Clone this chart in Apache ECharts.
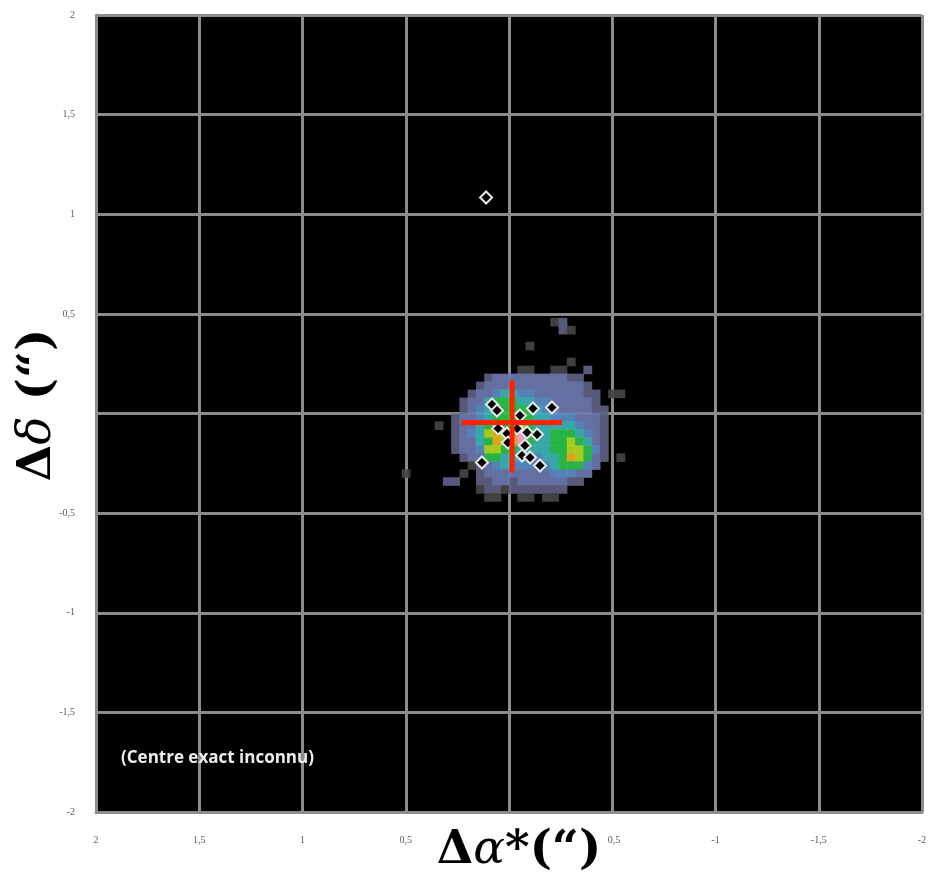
<!DOCTYPE html>
<html>
<head>
<meta charset="utf-8">
<script src="https://cdn.jsdelivr.net/npm/echarts@6/dist/echarts.min.js"></script>
<style>
html,body{margin:0;padding:0;background:#fff;}
#chart{width:930px;height:883px;}
</style>
</head>
<body>
<div id="chart"></div>
<script>
// ---- Axis ticks (Excel style, comma decimals) ----
const xTicks = [2, 1.5, 1, 0.5, 0, -0.5, -1, -1.5, -2];
const xTickLabels = ['2', '1,5', '1', '0,5', '0', '-0,5', '-1', '-1,5', '-2'];
const yTicks = [-2, -1.5, -1, -0.5, 0, 0.5, 1, 1.5, 2];
const yTickLabels = ['-2', '-1,5', '-1', '-0,5', '0', '0,5', '1', '1,5', '2'];

// ---- Density map (level 0 = empty) ----
// Row 0 is the top row; column 0 is the leftmost (largest Δα*).
const heatX0 = 0.50;   // Δα* of column 0 centre
const heatY0 = 0.46;   // Δδ of row 0 centre
const heatStep = 0.04; // cell size (″)
const heatRows = [
  "000000000000000000120000000",
  "000000000000000000021000000",
  "000000000000000000000000000",
  "000000000000000100000000000",
  "000000000000000000000000000",
  "000000000000000000001000000",
  "000000000000001100110020000",
  "000000000023333333332200000",
  "000000000233333333333320000",
  "000000002334554433333322011",
  "000000023356665544333332000",
  "000000023455666654433332200",
  "000000233456666655444333200",
  "000010233567667655555433200",
  "000000234578789655666543200",
  "000000233568789655667653200",
  "000000233477665555667764200",
  "000000023366555445568763201",
  "000000001234544434566643000",
  "100000010233333333444330000",
  "000002200223323333332200000",
  "000000000122122222220000000",
  "000000000011001101100000000"
];
const heatPalette = ['transparent', '#454548', '#5f5f82', '#6b78ae', '#5a8ec6', '#3cb4b6', '#2cc24a', '#b4da22', '#eeb21e', '#f2a9cf'];

// ---- Individual measurements (Δα*, Δδ) ----
const pointsX = [0.111, 0.082, 0.058, -0.116, -0.208, -0.053, 0.053, 0.010, -0.039, -0.087, -0.136, 0.005, -0.077, -0.063, -0.102, -0.150, 0.131];
const pointsY = [1.084, 0.045, 0.015, 0.025, 0.030, -0.010, -0.075, -0.100, -0.075, -0.095, -0.105, -0.146, -0.161, -0.211, -0.221, -0.261, -0.246];

// ---- Red cross (mean position) ----
const crossH = [[0.228, -0.045], [-0.257, -0.045]];
const crossV = [[-0.015, 0.166], [-0.015, -0.296]];

const noteText = '(Centre exact inconnu)';

// ---- Build series data ----
const heatData = [];
heatRows.forEach((row, r) => {
  for (let c = 0; c < row.length; c++) {
    const lv = +row[c];
    if (lv > 0) heatData.push([heatX0 - c * heatStep, heatY0 - r * heatStep, lv]);
  }
});
const pointData = pointsX.map((x, i) => [x, pointsY[i]]);

function fmt(ticks, labels) {
  return v => {
    const i = ticks.findIndex(t => Math.abs(t - v) < 1e-9);
    return i >= 0 ? labels[i] : '';
  };
}

const gridColor = '#8c8c8c';
const titleFont = 'bold 47px "DejaVu Serif"';
const titleItalic = 'italic 47px "DejaVu Serif"';
const chart = echarts.init(document.getElementById('chart'), null, {renderer: 'canvas'});
chart.setOption({
  animation: false,
  backgroundColor: '#fff',
  grid: {left: 96, right: 8, top: 15, bottom: 71, show: true, backgroundColor: '#000', borderWidth: 0},
  xAxis: {
    type: 'value', min: -2, max: 2, interval: 0.5, inverse: true,
    axisLine: {show: true, onZero: false, lineStyle: {color: gridColor, width: 3}},
    axisTick: {show: false},
    splitLine: {show: true, lineStyle: {color: gridColor, width: 3}},
    axisLabel: {margin: 23, color: '#5b5b6b', fontSize: 10, fontFamily: 'Liberation Serif', formatter: fmt(xTicks, xTickLabels)}
  },
  yAxis: {
    type: 'value', min: -2, max: 2, interval: 0.5,
    axisLine: {show: true, onZero: false, lineStyle: {color: gridColor, width: 3}},
    axisTick: {show: false},
    splitLine: {show: true, lineStyle: {color: gridColor, width: 3}},
    axisLabel: {margin: 21, color: '#5b5b6b', fontSize: 10, fontFamily: 'Liberation Serif', formatter: fmt(yTicks, yTickLabels)}
  },
  graphic: [
    {
      type: 'text', z: 100, x: 519, y: 851,
      style: {
        text: 'Δ{i|α}*(“)',
        font: titleFont,
        fill: '#000', align: 'center', verticalAlign: 'middle',
        backgroundColor: '#fff', padding: [6, 6, 6, 6],
        rich: {i: {font: titleItalic, fill: '#000'}}
      }
    },
    {
      type: 'text', z: 100, x: 43, y: 405, rotation: Math.PI / 2,
      style: {
        text: 'Δ{i|δ} (“)',
        font: titleFont,
        fill: '#000', align: 'center', verticalAlign: 'middle',
        backgroundColor: '#fff', padding: [4, 4, 14, 4],
        rich: {i: {font: titleItalic, fill: '#000'}}
      }
    },
    {
      type: 'text', z: 100, x: 121, y: 758,
      style: {
        text: noteText,
        font: 'bold 17px "Open Sans"',
        fill: '#ececec', align: 'left', verticalAlign: 'middle'
      }
    }
  ],
  series: [
    {
      type: 'custom', name: 'density', z: 2,
      data: heatData,
      encode: {x: 0, y: 1},
      renderItem: (params, api) => {
        const x = api.value(0), y = api.value(1), lv = api.value(2);
        const h = heatStep / 2;
        const p0 = api.coord([x + h, y + h]);
        const p1 = api.coord([x - h, y - h]);
        return {
          type: 'rect',
          shape: {x: Math.min(p0[0], p1[0]), y: Math.min(p0[1], p1[1]), width: Math.abs(p1[0] - p0[0]) + 0.6, height: Math.abs(p1[1] - p0[1]) + 0.6},
          style: {fill: heatPalette[lv], opacity: 0.92}
        };
      }
    },
    {
      type: 'scatter', name: 'points', z: 4,
      data: pointData,
      symbol: 'diamond', symbolSize: 12,
      itemStyle: {color: '#000', borderColor: '#e6e6e6', borderWidth: 2, opacity: 1}
    },
    {
      type: 'line', name: 'crossH', z: 5, data: crossH, symbol: 'none',
      lineStyle: {color: '#ff2200', width: 5}
    },
    {
      type: 'line', name: 'crossV', z: 5, data: crossV, symbol: 'none',
      lineStyle: {color: '#ff2200', width: 5}
    }
  ]
});
</script>
</body>
</html>
